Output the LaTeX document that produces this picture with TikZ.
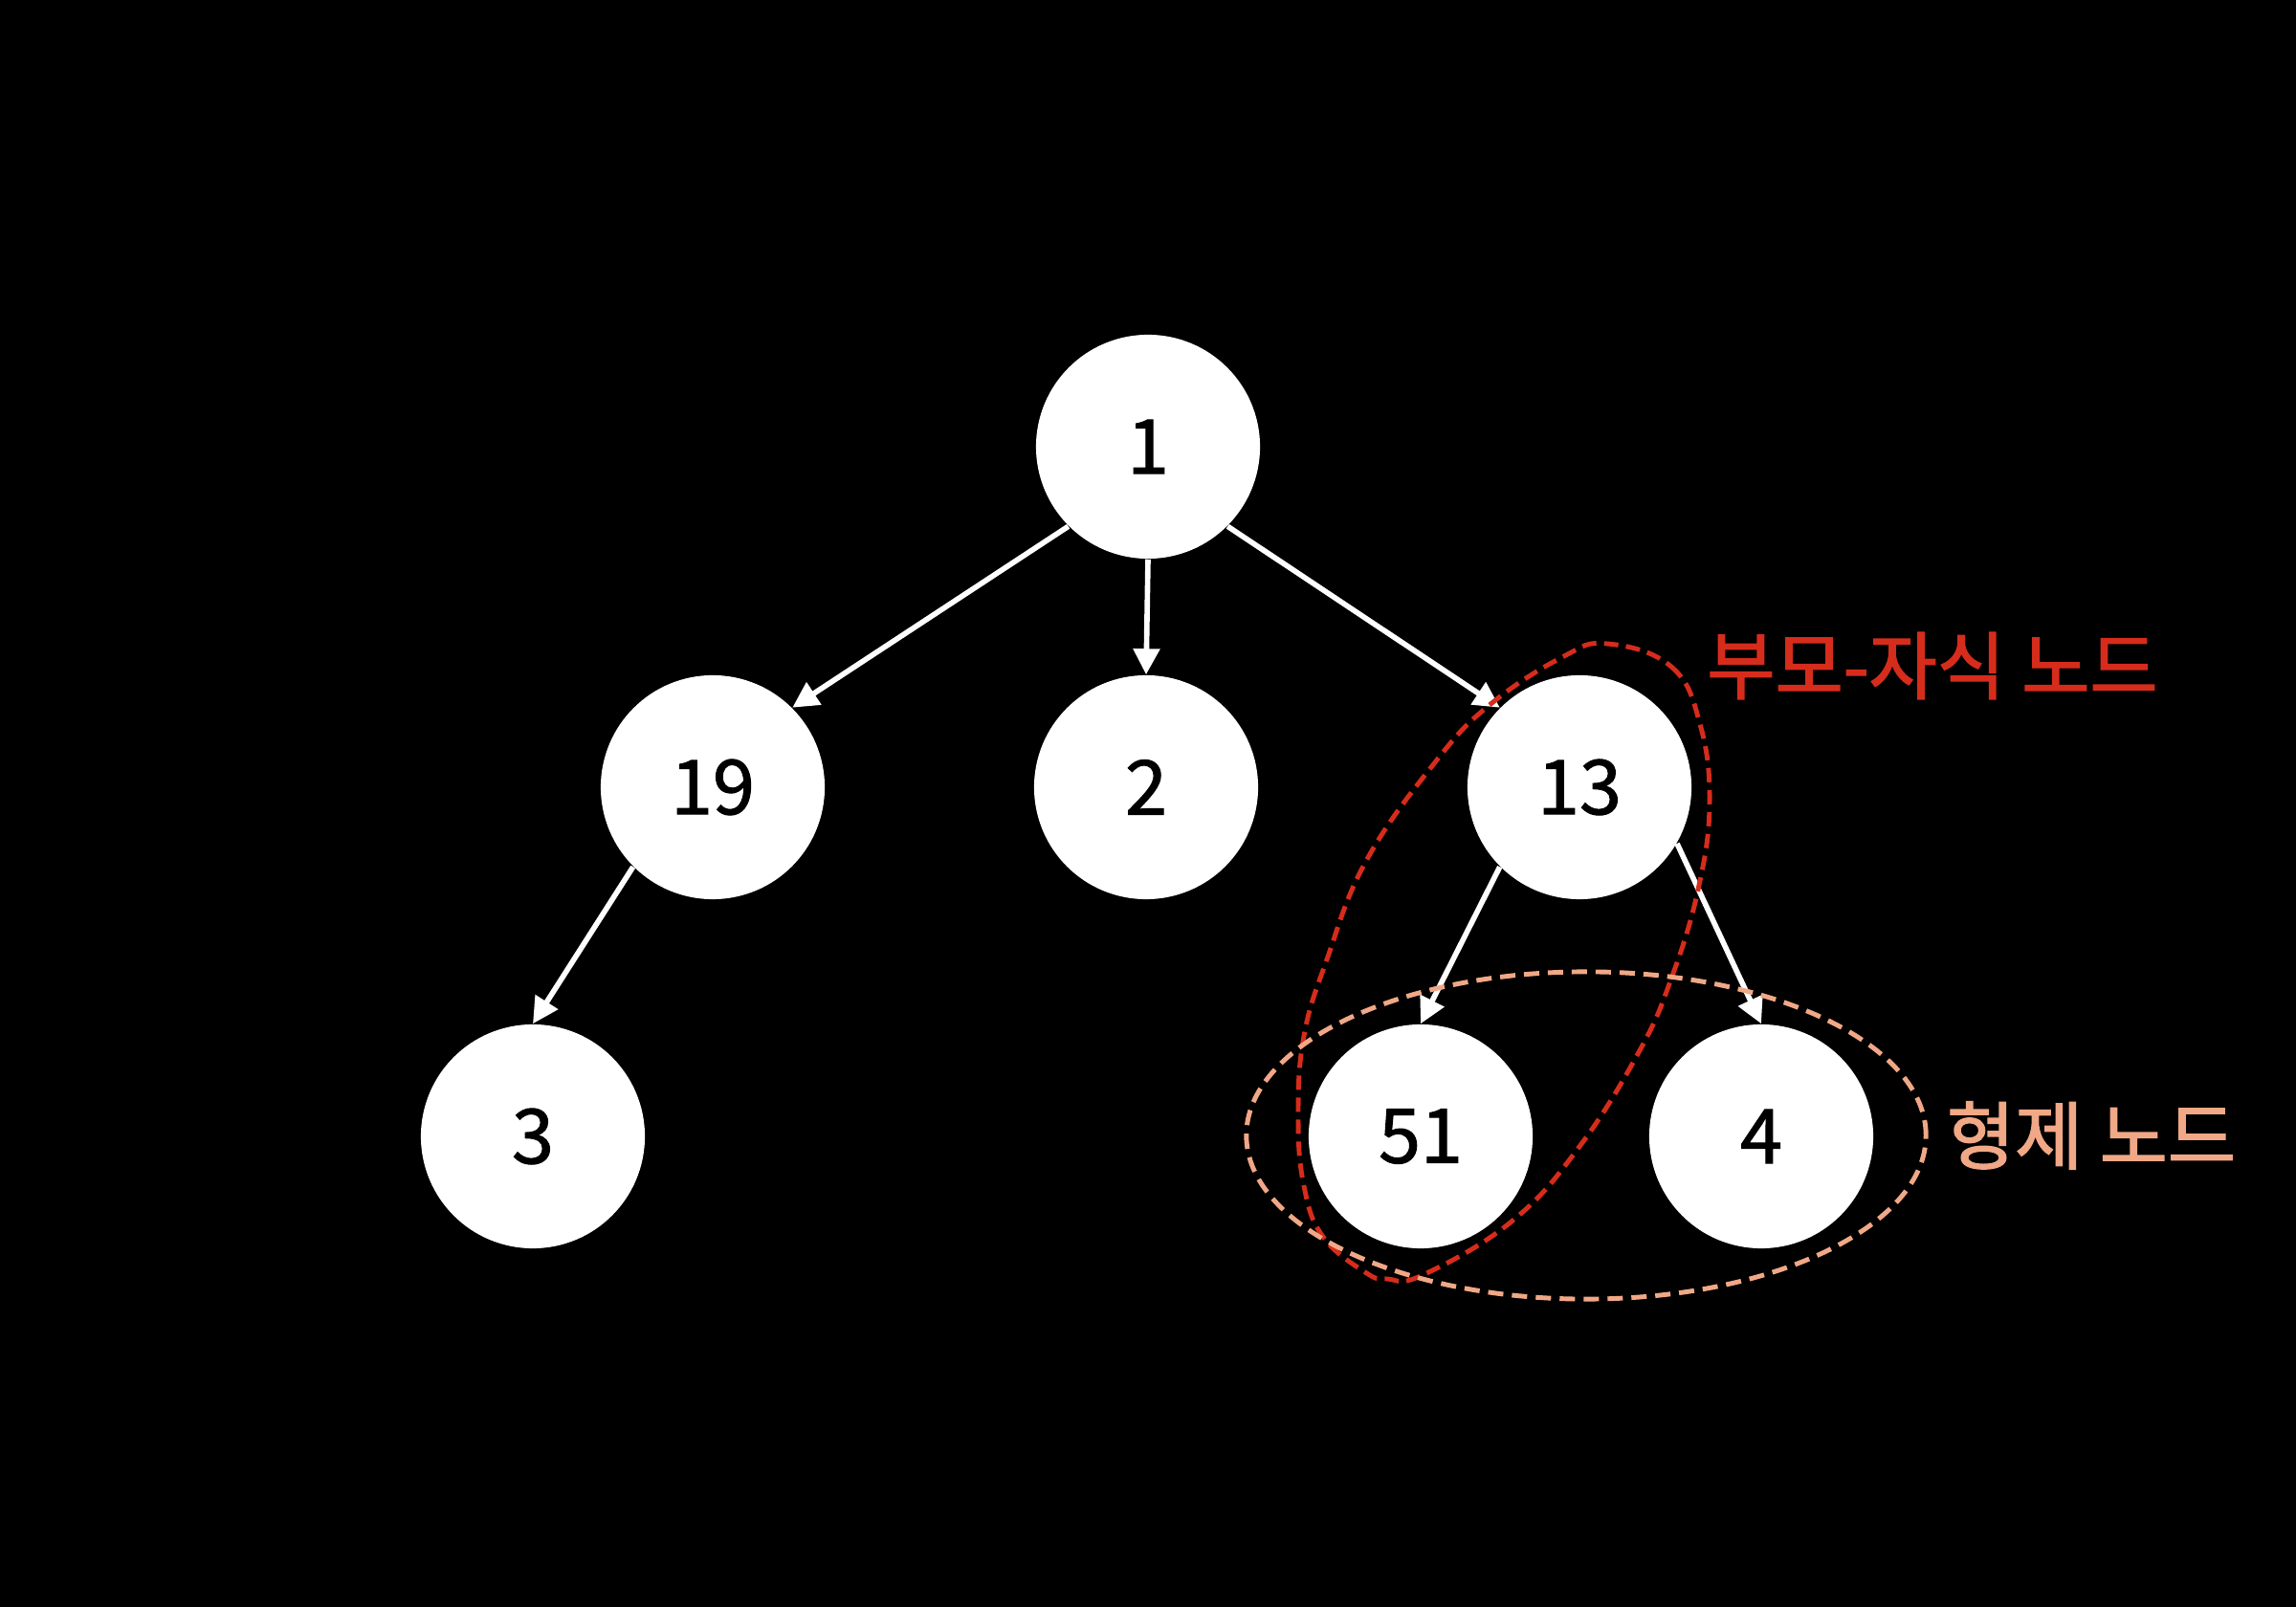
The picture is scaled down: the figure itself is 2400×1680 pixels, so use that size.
\documentclass[tikz,border=0pt]{standalone}
\usepackage{fontspec}
\setmainfont{Noto Sans CJK KR}
\newfontfamily\numfont{Noto Sans CJK KR}[FakeBold=1.3]
\newfontfamily\medfont{Noto Sans CJK KR}[FakeBold=1.8]
\usetikzlibrary{arrows.meta}
\definecolor{pcred}{RGB}{214,44,28}
\definecolor{sibor}{RGB}{240,168,134}
\begin{document}
\begin{tikzpicture}[x=0.01cm, y=-0.01cm,
  tnode/.style={circle, fill=white, minimum size=2.34cm, inner sep=0pt,
    font=\numfont\fontsize{22.5}{26}\selectfont, text=black},
  edge/.style={draw=white, line width=1.6pt,
    -{Triangle[length=0.27cm,width=0.27cm]}},
  pcdash/.style={draw=pcred, line width=1.4pt, dash pattern=on 0.15cm off 0.08cm},
  sibdash/.style={draw=sibor, line width=1.4pt, dash pattern=on 0.16cm off 0.09cm},
  lbl/.style={font=\medfont\fontsize{22}{26}\selectfont, inner sep=0pt}
]
\fill[black] (0,0) rectangle (2400,1680);
\useasboundingbox (0,0) rectangle (2400,1680);

\node[tnode] (n1) at (1200,467) {1};
\node[tnode] (n19) at (745,823) {19};
\node[tnode] (n2) at (1198,823) {2};
\node[tnode] (n13) at (1651,823) {13};
\node[tnode] (n3) at (557,1188) {3};
\node[tnode] (n51) at (1485,1188) {51};
\node[tnode] (n4) at (1841,1188) {4};

\draw[edge] (n1.225) -- (n19.45);
\draw[edge] (n1.south) -- (n2.north);
\draw[edge] (n1.315) -- (n13.135);
\draw[edge] (n19.225) -- (n3.north);
\draw[edge] (n13.225) -- (n51.north);
\draw[edge] (n13.330) -- (n4.north);

\draw[pcdash] plot[smooth cycle, tension=0.7] coordinates {
  (1680,673) (1747,697) (1777,757) (1787,840) (1775,930) (1747,1023)
  (1713,1100) (1650,1200) (1580,1277) (1487,1333) (1450,1337) (1427,1330)
  (1383,1293) (1363,1240) (1357,1167) (1363,1083) (1387,1003) (1428,900)
  (1500,797) (1557,737) (1633,687)};
\draw[sibdash] (1658,1187) ellipse [x radius=3.55cm, y radius=1.71cm];

\node[lbl, text=pcred] (lpc) at (2020,696) {부모-자식 노드};
\node[lbl, text=sibor] (lsib) at (2186,1187) {형제 노드};
\end{tikzpicture}
\end{document}
